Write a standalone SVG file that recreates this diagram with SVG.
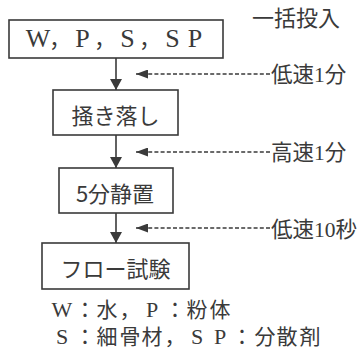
<svg xmlns="http://www.w3.org/2000/svg" width="359" height="357" viewBox="0 0 359 357">
<style>
.box{fill:#fff;stroke:#3a3a3a;stroke-width:1.6}
.t{font-family:"Noto Sans CJK JP",sans-serif;font-size:22px;fill:#3a3a3a}
.lbl{font-family:"Liberation Serif","Noto Sans CJK JP",serif;font-size:21.5px;fill:#3a3a3a}
.ser{font-family:"Liberation Serif","Noto Sans CJK JP",serif;fill:#3a3a3a}
.solid{stroke:#3a3a3a;stroke-width:1.6;fill:none}
.dash{stroke:#3a3a3a;stroke-width:1.5;fill:none;stroke-dasharray:4 2.2}
</style>
<defs>
<marker id="ah" markerUnits="userSpaceOnUse" markerWidth="11" markerHeight="12" refX="11" refY="6" orient="auto" viewBox="0 0 11 12">
<path d="M0,0 L11,6 L0,12 Z" fill="#3a3a3a"/>
</marker>
<marker id="ahd" markerUnits="userSpaceOnUse" markerWidth="12" markerHeight="9" refX="12" refY="4.5" orient="auto" viewBox="0 0 12 9">
<path d="M0,0 L12,4.5 L0,9 Z" fill="#3a3a3a"/>
</marker>
</defs>
<g id="connectors">
<line class="solid" x1="116" y1="58" x2="116" y2="90" marker-end="url(#ah)"/>
<line class="solid" x1="116" y1="135" x2="116" y2="168" marker-end="url(#ah)"/>
<line class="solid" x1="116" y1="213" x2="116" y2="243" marker-end="url(#ah)"/>
<line class="dash" x1="270" y1="74" x2="136" y2="74" marker-end="url(#ahd)"/>
<line class="dash" x1="270" y1="152" x2="136" y2="152" marker-end="url(#ahd)"/>
<line class="dash" x1="270" y1="228" x2="136" y2="228" marker-end="url(#ahd)"/>
</g>
<g id="node1">
<rect class="box" x="9" y="20" width="214" height="38"/>
<text class="ser" y="47" text-anchor="middle"><tspan x="38" font-size="26">W</tspan><tspan x="60" font-size="22">，</tspan><tspan x="82.5" font-size="26">P</tspan><tspan x="105" font-size="22">，</tspan><tspan x="127.5" font-size="26">S</tspan><tspan x="150" font-size="22">，</tspan><tspan x="172.5" font-size="26">S</tspan><tspan x="195" font-size="26">P</tspan></text>
</g>
<g id="node2">
<rect class="box" x="53" y="90" width="125" height="45"/>
<text class="t" x="115.5" y="123.5" text-anchor="middle">掻き落し</text>
</g>
<g id="node3">
<rect class="box" x="59" y="168" width="114" height="45"/>
<text class="t" x="115" y="201.5" text-anchor="middle">5分静置</text>
</g>
<g id="node4">
<rect class="box" x="42" y="243" width="147" height="46"/>
<text class="t" x="115.5" y="277" text-anchor="middle">フロー試験</text>
</g>
<g id="labels">
<text class="t" x="252" y="26">一括投入</text>
<text class="lbl" x="271" y="82">低速1分</text>
<text class="lbl" x="271" y="160">高速1分</text>
<text class="lbl" x="271" y="237">低速10秒</text>
</g>
<g id="legend">
<text class="ser" y="317" text-anchor="middle"><tspan x="62" font-size="22">W</tspan><tspan x="85" font-size="21">：</tspan><tspan x="107" font-size="21">水</tspan><tspan x="130" font-size="21">，</tspan><tspan x="152" font-size="22">P</tspan><tspan x="175" font-size="21">：</tspan><tspan x="197" font-size="21">粉</tspan><tspan x="220" font-size="21">体</tspan></text>
<text class="ser" y="344" text-anchor="middle"><tspan x="62" font-size="22">S</tspan><tspan x="85" font-size="21">：</tspan><tspan x="107" font-size="21">細</tspan><tspan x="130" font-size="21">骨</tspan><tspan x="152" font-size="21">材</tspan><tspan x="175" font-size="21">，</tspan><tspan x="197" font-size="22">S</tspan><tspan x="220" font-size="22">P</tspan><tspan x="242" font-size="21">：</tspan><tspan x="265" font-size="21">分</tspan><tspan x="287" font-size="21">散</tspan><tspan x="310" font-size="21">剤</tspan></text>
</g>
</svg>
